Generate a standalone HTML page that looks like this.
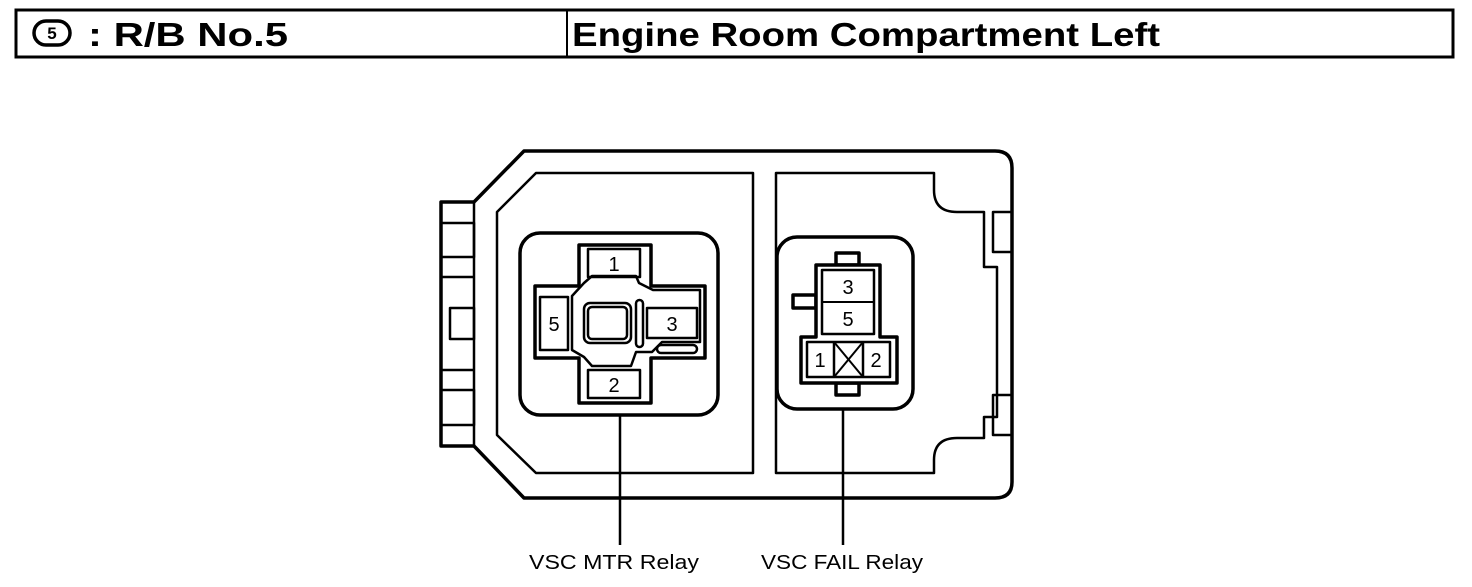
<!DOCTYPE html>
<html><head><style>
body{margin:0;background:#fff;width:1472px;height:582px;overflow:hidden;font-family:"Liberation Sans",Arial,sans-serif}
</style></head><body>
<svg width="1472" height="582" viewBox="0 0 1472 582" xmlns="http://www.w3.org/2000/svg">
<g fill="none" stroke="#000">
<rect x="16" y="10" width="1437" height="47" stroke-width="3"/>
<line x1="567" y1="10" x2="567" y2="57" stroke-width="2"/>
<rect x="34" y="21" width="36" height="24" rx="12" stroke-width="3.5"/>
</g>
<text x="52" y="39" font-size="17" font-weight="bold" text-anchor="middle" font-family="Liberation Sans">5</text>
<text x="88" y="46" font-size="33" font-weight="bold" font-family="Liberation Sans" textLength="200" lengthAdjust="spacingAndGlyphs">: R/B No.5</text>
<text x="572" y="46" font-size="33" font-weight="bold" font-family="Liberation Sans" textLength="588" lengthAdjust="spacingAndGlyphs">Engine Room Compartment Left</text>

<g fill="none" stroke="#000" stroke-width="3.5" stroke-linejoin="round">
<!-- outer -->
<path d="M474 202 L524 151 L995 151 Q1012 151 1012 168 L1012 482 Q1012 498 995 498 L524 498 L474 446 L441 446 L441 202 Z"/>
<line x1="474" y1="202" x2="474" y2="446" stroke-width="2.5"/>
<g stroke-width="2.5">
<rect x="441" y="223" width="33" height="34"/>
<line x1="441" y1="277" x2="474" y2="277"/>
<line x1="441" y1="370" x2="474" y2="370"/>
<rect x="450" y="308" width="24" height="31"/>
<rect x="441" y="390" width="33" height="35"/>
<rect x="993" y="212" width="19" height="40"/>
<rect x="993" y="395" width="19" height="40"/>
<!-- left panel -->
<path d="M536 173 L753 173 L753 473 L536 473 L497 435 L497 212 Z"/>
<!-- right panel -->
<path d="M776 173 L934 173 L934 190 Q934 212 957 212 L984 212 L984 267 L997 267 L997 417 L984 417 L984 438 L957 438 Q934 438 934 460 L934 473 L776 473 Z"/>
</g>
<!-- MTR relay -->
<rect x="520" y="233" width="198" height="182" rx="20"/>
<path d="M579 245 L651 245 L651 286 L705 286 L705 358 L651 358 L651 403 L579 403 L579 358 L535 358 L535 286 L579 286 Z"/>
<g stroke-width="2.5">
<path d="M584 283 L592 276 L636 276 L639 283 L653 290 L700 290 L700 342 L662 342 L652 352 L636 352 L631 366 L592 366 L584 357 L572 350 L572 296 Z"/>
<rect x="588" y="249" width="52" height="28"/>
<rect x="588" y="370" width="52" height="28"/>
<rect x="540" y="297" width="28" height="53"/>
<rect x="647" y="308" width="50" height="30"/>
<rect x="584" y="303" width="47" height="40" rx="6"/>
<rect x="588" y="307" width="39" height="32" rx="4"/>
<rect x="636" y="300" width="7" height="47" rx="3.5"/>
<rect x="657" y="345" width="40" height="8" rx="4"/>
</g>
<!-- FAIL relay -->
<rect x="777" y="237" width="136" height="172" rx="20"/>
<rect x="836" y="253" width="23" height="12"/>
<rect x="836" y="383" width="23" height="12"/>
<rect x="793" y="295" width="23" height="13"/>
<path d="M816 265 L880 265 L880 337 L897 337 L897 383 L801 383 L801 337 L816 337 Z" fill="#fff"/>
<g stroke-width="2.5">
<rect x="822" y="270" width="52" height="64"/>
<line x1="822" y1="302" x2="874" y2="302" stroke-width="2"/>
<rect x="807" y="342" width="83" height="35"/>
<line x1="834" y1="342" x2="834" y2="377"/>
<line x1="863" y1="342" x2="863" y2="377"/>
<line x1="834" y1="342" x2="863" y2="377" stroke-width="2"/>
<line x1="863" y1="342" x2="834" y2="377" stroke-width="2"/>
</g>
<g stroke-width="2.5">
<line x1="620" y1="415" x2="620" y2="545"/>
<line x1="843" y1="409" x2="843" y2="545"/>
</g>
</g>
<g font-size="20" text-anchor="middle" font-family="Liberation Sans">
<text x="614" y="271">1</text>
<text x="614" y="392">2</text>
<text x="554" y="331">5</text>
<text x="672" y="331">3</text>
<text x="848" y="294">3</text>
<text x="848" y="326">5</text>
<text x="820" y="367">1</text>
<text x="876" y="367">2</text>
<text x="614" y="569" font-size="20" textLength="170" lengthAdjust="spacingAndGlyphs">VSC MTR Relay</text>
<text x="842" y="569" font-size="20" textLength="162" lengthAdjust="spacingAndGlyphs">VSC FAIL Relay</text>
</g>
</svg>
</body></html>
